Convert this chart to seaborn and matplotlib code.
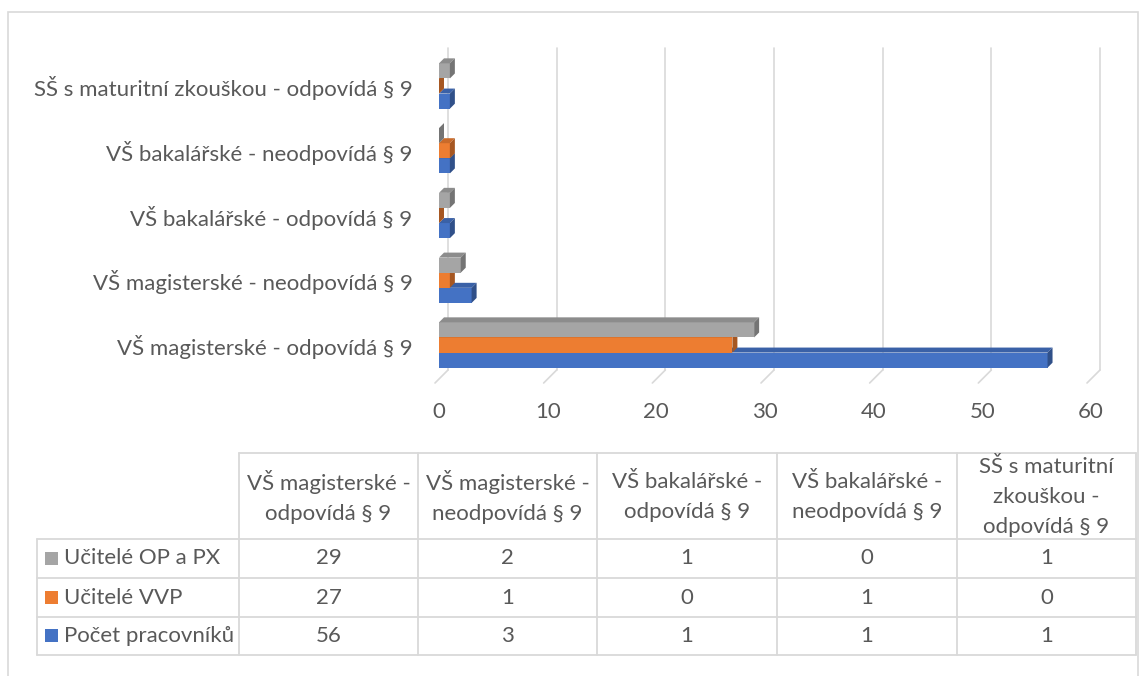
import numpy as np
import pandas as pd
import matplotlib
matplotlib.use("Agg")
import matplotlib.pyplot as plt
import matplotlib.transforms as mtransforms
from matplotlib.patches import Polygon, Rectangle
from matplotlib.colors import to_rgb
import seaborn as sns

# data
categories = [
    "SŠ s maturitní zkouškou - odpovídá § 9",
    "VŠ bakalářské - neodpovídá § 9",
    "VŠ bakalářské - odpovídá § 9",
    "VŠ magisterské - neodpovídá § 9",
    "VŠ magisterské - odpovídá § 9",
]
series = ["Učitelé OP a PX", "Učitelé VVP", "Počet pracovníků"]
ucitele_op_px = [1, 0, 1, 2, 29]
ucitele_vvp = [0, 1, 0, 1, 27]
pocet_pracovniku = [1, 1, 1, 3, 56]
colors = ["#A5A5A5", "#ED7D31", "#4472C4"]

# table columns go the other way round (bottom category first)
table_headers = [
    "VŠ magisterské -\nodpovídá § 9",
    "VŠ magisterské -\nneodpovídá § 9",
    "VŠ bakalářské -\nodpovídá § 9",
    "VŠ bakalářské -\nneodpovídá § 9",
    "SŠ s maturitní\nzkouškou -\nodpovídá § 9",
]

values = [ucitele_op_px, ucitele_vvp, pocet_pracovniku]
df = pd.DataFrame({
    "kategorie": categories * 3,
    "rada": np.repeat(series, len(categories)),
    "hodnota": ucitele_op_px + ucitele_vvp + pocet_pracovniku,
})

sns.set_theme(style="white")
plt.rcParams["font.family"] = ["Lato", "DejaVu Sans"]
txt = "#595959"
grid_c = "#D9D9D9"
fs = 16

fig = plt.figure(figsize=(11.47, 6.76), dpi=100)
W, H = 1147, 676

ax = fig.add_axes([439 / W, 1 - 370 / H, 652 / W, 322 / H])
sns.barplot(
    data=df, y="kategorie", x="hodnota", hue="rada",
    order=categories, hue_order=series, palette=colors,
    orient="h", width=0.7, gap=0, legend=False, ax=ax,
    saturation=1, linewidth=0,
)
ax.set_xlim(0, 60)
ax.set_ylim(4.386, -0.587)
ax.set_xticks(range(0, 61, 10))
ax.set_xlabel("")
ax.set_ylabel("")
for s in ax.spines.values():
    s.set_visible(False)
ax.tick_params(axis="x", length=0, pad=23, labelsize=fs, labelcolor=txt)
ax.tick_params(axis="y", length=0, pad=19, labelsize=fs, labelcolor=txt)
ax.grid(False)

# back wall gridlines with the 3D floor diagonal
px = 1 / 100
blend = mtransforms.blended_transform_factory(ax.transData, ax.transAxes)
wall = blend + mtransforms.ScaledTranslation(9 * px, 0, fig.dpi_scale_trans)
for t in ax.get_xticks():
    ax.plot([t, t], [0, 1], color=grid_c, lw=1.2, transform=wall, zorder=0, clip_on=False)
    p0 = wall.transform((t, 0))
    p1 = p0 + np.array([-13, -13])
    ax.add_line(plt.Line2D([p0[0], p1[0]], [p0[1], p1[1]], color=grid_c, lw=1.2,
                           transform=mtransforms.IdentityTransform(), zorder=0, clip_on=False))


def shade(c, f):
    r, g, b = to_rgb(c)
    return (r * f, g * f, b * f)


# fake 3D depth on each bar
d = 5
fig.canvas.draw()
for patch in list(ax.patches):
    yc = patch.get_y() + patch.get_height() / 2
    z = 10 - yc
    col = patch.get_facecolor()
    patch.set_zorder(z)
    (x0, y0), (x1, y1) = ax.transData.transform(
        [(patch.get_x(), patch.get_y() + patch.get_height()),
         (patch.get_x() + patch.get_width(), patch.get_y())])
    top = Polygon([(x0, y1), (x1, y1), (x1 + d, y1 + d), (x0 + d, y1 + d)],
                  closed=True, facecolor=shade(col, 0.85), edgecolor="none",
                  transform=mtransforms.IdentityTransform(), zorder=z, clip_on=False)
    side = Polygon([(x1, y0), (x1, y1), (x1 + d, y1 + d), (x1 + d, y0 + d)],
                   closed=True, facecolor=shade(col, 0.7), edgecolor="none",
                   transform=mtransforms.IdentityTransform(), zorder=z, clip_on=False)
    ax.add_patch(top)
    ax.add_patch(side)

# data table below the chart
tax = fig.add_axes([0, 0, 1, 1])
tax.set_xlim(0, W)
tax.set_ylim(H, 0)
tax.axis("off")
tax.patch.set_alpha(0)

col_edges = [239, 418, 597, 777, 957, 1136]
row_edges = [539, 578, 617, 655]
head_top = 453
left = 37

lk = dict(color=grid_c, lw=1.3)
tax.plot([col_edges[0], col_edges[-1]], [head_top, head_top], **lk)
for xe in col_edges:
    tax.plot([xe, xe], [head_top, row_edges[-1]], **lk)
tax.plot([left, left], [row_edges[0], row_edges[-1]], **lk)
for ye in row_edges:
    tax.plot([left, col_edges[-1]], [ye, ye], **lk)

for i, h in enumerate(table_headers):
    cx = (col_edges[i] + col_edges[i + 1]) / 2
    tax.text(cx, (head_top + row_edges[0]) / 2 + 1, h, ha="center", va="center",
             fontsize=fs, color=txt, linespacing=1.6)

for r, (name, vals, c) in enumerate(zip(series, values, colors)):
    cy = (row_edges[r] + row_edges[r + 1]) / 2
    tax.add_patch(Rectangle((45, cy - 7), 13, 13, facecolor=c, edgecolor="none"))
    tax.text(64, cy, name, ha="left", va="center", fontsize=fs, color=txt)
    # columns run from bottom category to top category
    for i, v in enumerate(vals[::-1]):
        cx = (col_edges[i] + col_edges[i + 1]) / 2
        tax.text(cx, cy, str(v), ha="center", va="center", fontsize=fs, color=txt)

# outer chart frame
fig.patches.append(Rectangle((8 / W, -0.05), 1130 / W, 1 - 12 / H + 0.05,
                             transform=fig.transFigure, fill=False,
                             edgecolor=grid_c, lw=1.2))

fig.savefig("out.png", dpi=100)
